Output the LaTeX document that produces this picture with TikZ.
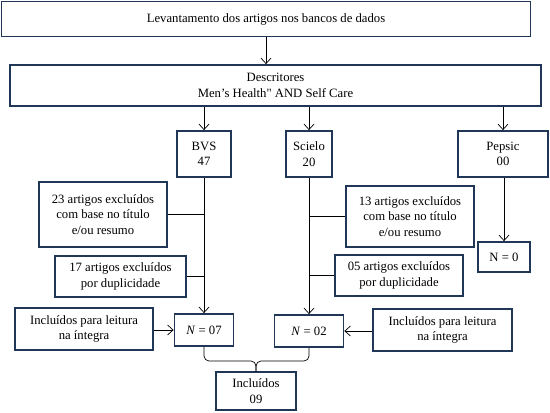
\documentclass[tikz,border=0pt]{standalone}
\usepackage{fontspec}
\setmainfont{Liberation Serif}
\usepackage{xcolor}
\definecolor{boxnavy}{RGB}{33,55,88}
\usepackage{tikz}
\usetikzlibrary{arrows.meta, positioning, calc}

\begin{document}
\begin{tikzpicture}[x=1pt, y=-1pt,
  flowbox/.style={draw=boxnavy, line width=1.8pt, fill=white, align=center, inner sep=2pt,
    font=\fontsize{12.7}{15.5}\selectfont},
  link/.style={draw=black, line width=0.7pt},
  arr/.style={link, -{Straight Barb[length=5.5pt, width=10pt]}},
  brace/.style={link, rounded corners=5pt}]
  \useasboundingbox (0,0) rectangle (550,413);

  % Search and descriptors
  \node[flowbox, minimum width=529pt, minimum height=35pt] (search) at (266,19) {Levantamento dos artigos nos bancos de dados};
  \node[flowbox, minimum width=531pt, minimum height=41pt] (desc) at (275.5,85.5) {Descritores\\Men’s Health\textquotedbl{} AND Self Care};
  \draw[arr] (search.south) -- (search.south |- desc.north);

  % Databases
  \node[flowbox, minimum width=54pt, minimum height=46pt] (bvs) at (204,154) {BVS\\47};
  \node[flowbox, minimum width=46pt, minimum height=46pt] (scielo) at (309,154) {Scielo\\20};
  \node[flowbox, minimum width=90pt, minimum height=46pt] (pepsic) at (503,154) {Pepsic\\00};
  \foreach \db in {bvs, scielo, pepsic}
    \draw[arr] (\db |- desc.south) -- (\db.north);

  % BVS exclusions
  \node[flowbox, minimum width=128pt, minimum height=65pt] (exbvsa) at (103,214.5) {23 artigos excluídos\\com base no título\\e/ou resumo};
  \node[flowbox, minimum width=131pt, minimum height=41pt] (exbvsb) at (120.5,276.5) {17 artigos excluídos\\por duplicidade};

  % Scielo exclusions
  \node[flowbox, minimum width=128pt, minimum height=61pt] (exscia) at (410,216.5) {13 artigos excluídos\\com base no título\\e/ou resumo};
  \node[flowbox, minimum width=128pt, minimum height=41pt] (exscib) at (399,275.5) {05 artigos excluídos\\por duplicidade};

  % Pepsic result
  \node[flowbox, minimum width=52pt, minimum height=30pt] (npep) at (504,257) {N = 0};
  \draw[arr] (pepsic.south -| npep.north) -- (npep.north);

  % Results per base
  \node[flowbox, minimum width=59pt, minimum height=32pt] (nbvs) at (204,330) {\textit{N} = 07};
  \node[flowbox, minimum width=69pt, minimum height=32pt] (nsci) at (309,331) {\textit{N} = 02};
  \node[flowbox, minimum width=138pt, minimum height=42pt] (leitbvs) at (84,329) {Incluídos para leitura\\na íntegra};
  \node[flowbox, minimum width=139pt, minimum height=42pt] (leitsci) at (442.5,330) {Incluídos para leitura\\na íntegra};

  \draw[arr] (bvs.south) -- (nbvs.north);
  \draw[arr] (scielo.south) -- (nsci.north);
  \draw[link] (exbvsa.east) -- (exbvsa.east -| bvs.south);
  \draw[link] (exbvsb.east) -- (exbvsb.east -| bvs.south);
  \draw[link] (exscia.west) -- (exscia.west -| scielo.south);
  \draw[link] (exscib.west) -- (exscib.west -| scielo.south);
  \draw[arr] (leitbvs.east |- nbvs.west) -- (nbvs.west);
  \draw[arr] (leitsci.west |- nsci.east) -- (nsci.east);

  % Final count
  \node[flowbox, minimum width=80pt, minimum height=38pt] (incl) at (256,391) {Incluídos\\09};
  \coordinate (bracetip) at (256,361);
  \draw[brace] (nbvs.south) |- (bracetip) -- (incl.north);
  \draw[brace] (nsci.south) |- (bracetip) -- (incl.north);
\end{tikzpicture}
\end{document}
